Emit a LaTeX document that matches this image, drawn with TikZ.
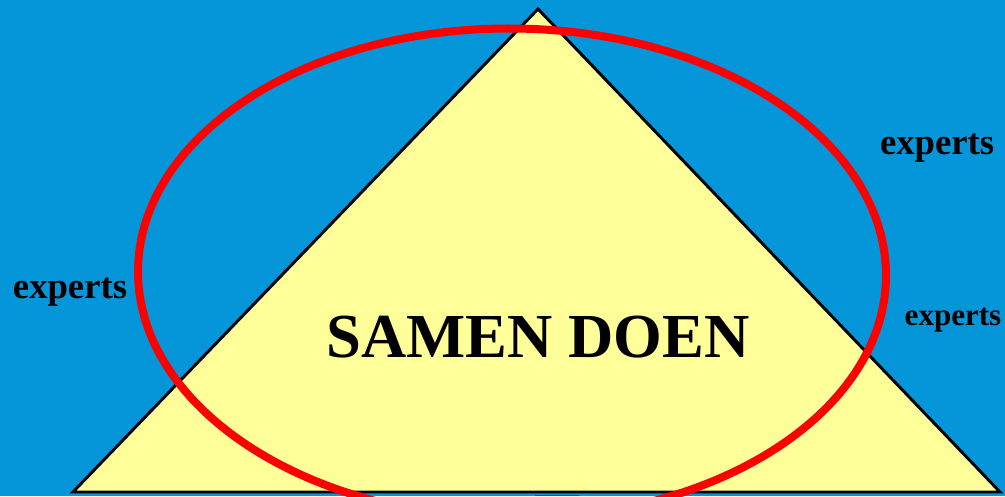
\documentclass[tikz,border=0pt]{standalone}
\usepackage{fontspec}
\setmainfont{Liberation Serif}
\definecolor{skyblue}{HTML}{0596DA}
\definecolor{paleyellow}{HTML}{FFFF99}
\tikzset{
  expertlabel/.style={font=\bfseries\fontsize{27.5pt}{30pt}\selectfont, inner sep=0pt},
}
\begin{document}
\begin{tikzpicture}[x=0.75pt, y=-0.75pt]
  \fill[skyblue] (0,0) rectangle (1005,496);
  \useasboundingbox (0,0) rectangle (1005,496);
  \coordinate (apex) at (538,9);
  \coordinate (baseL) at (73,492);
  \coordinate (baseR) at (1000,492);
  \draw[fill=paleyellow, line width=2.2pt, line join=miter] (apex) -- (baseL) -- (baseR) -- cycle;
  \fill[red] (535,494.5) rectangle (579,496);
  \draw[red, line width=6pt, rotate around={-0.5:(512,273.5)}] (512,273.5) ellipse [x radius=374, y radius=245];
  \node[font=\bfseries\fontsize{47pt}{50pt}\selectfont, inner sep=0pt] (samen) at (538,337) {SAMEN DOEN};
  \node[expertlabel] (expL) at (70,292) {experts};
  \node[expertlabel] (expTR) at (937,148) {experts};
  \node[expertlabel, font=\bfseries\fontsize{23.3pt}{26pt}\selectfont] (expBR) at (953,320) {experts};
\end{tikzpicture}
\end{document}
